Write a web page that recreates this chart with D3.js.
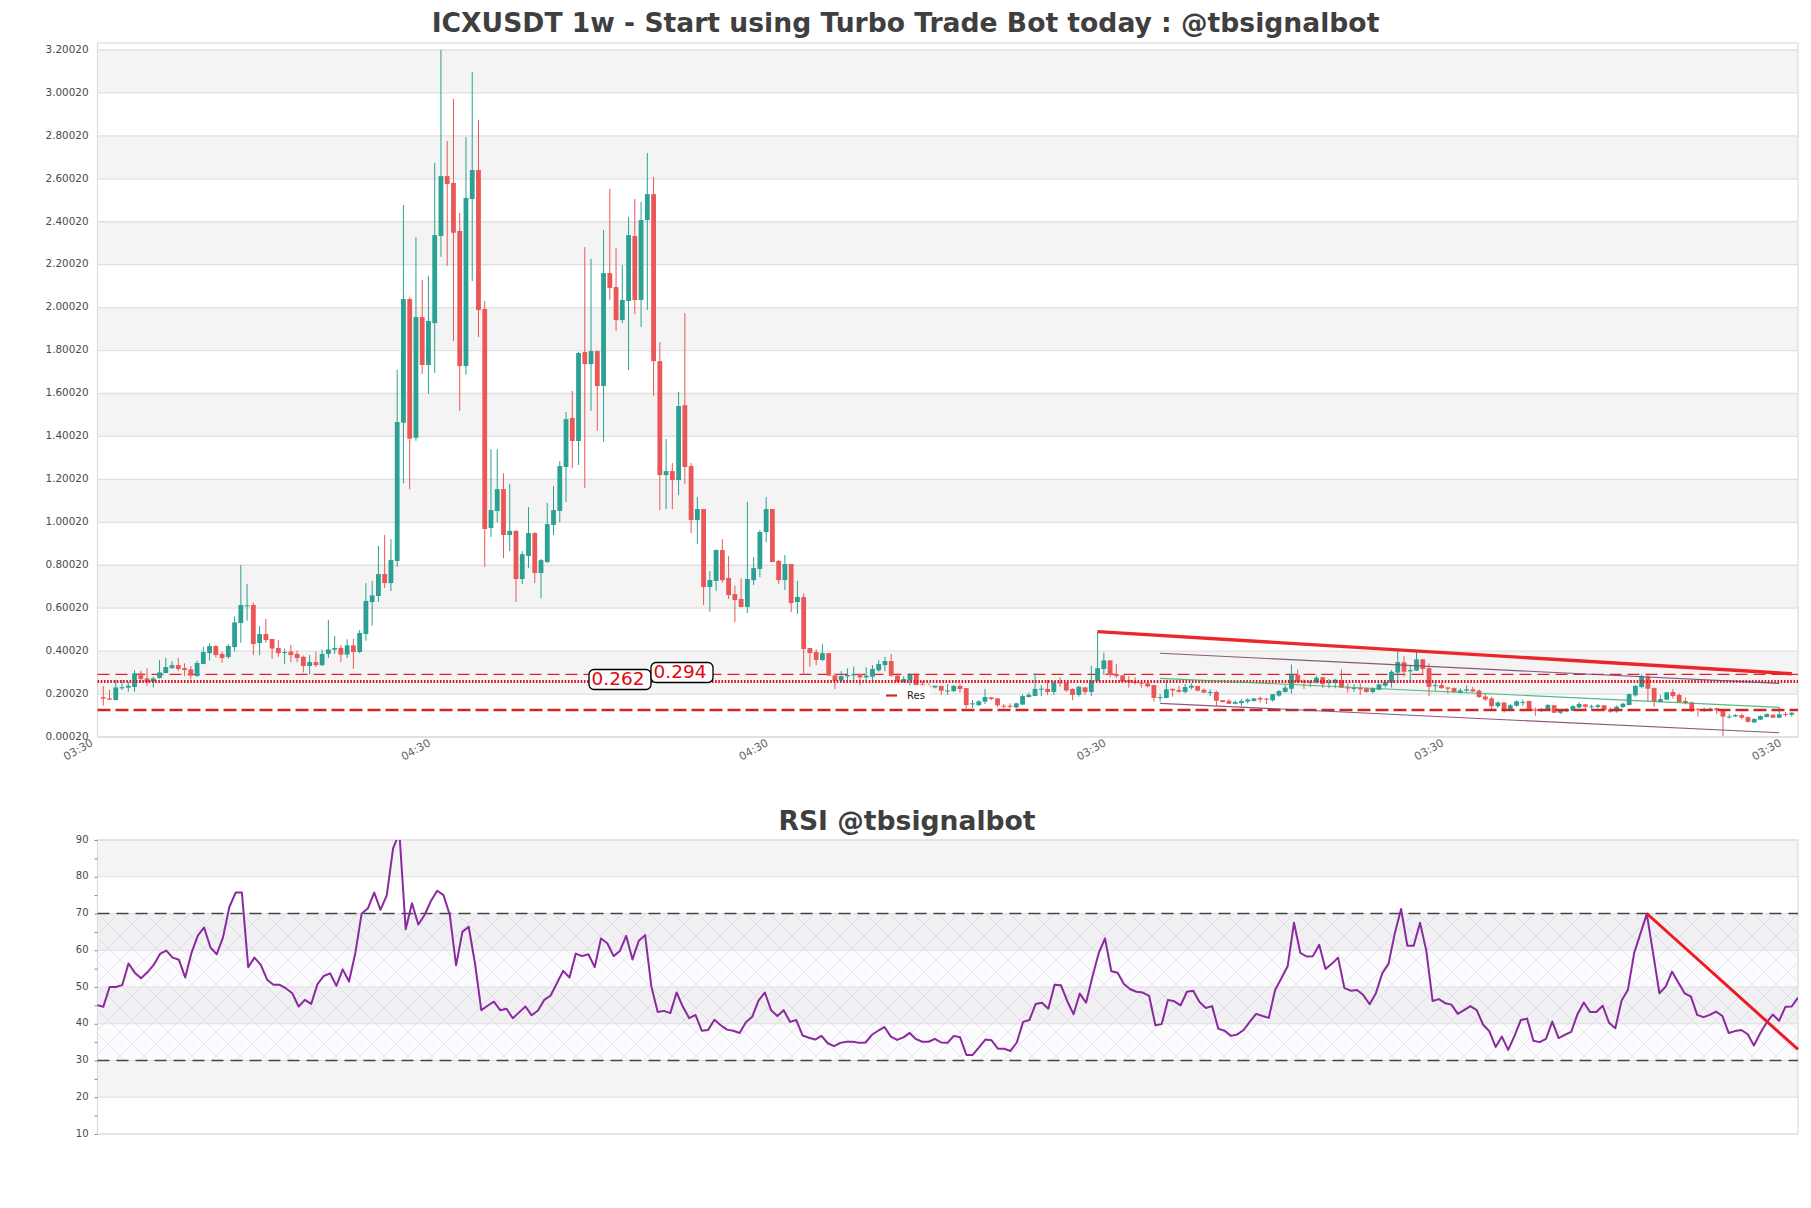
<!DOCTYPE html>
<html>
<head>
<meta charset="utf-8">
<style>
  html, body { margin: 0; padding: 0; background: #fff; }
  svg { display: block; font-family: "DejaVu Sans", sans-serif; }
</style>
<script src="https://cdn.jsdelivr.net/npm/d3@7"></script>
</head>
<body>
<script>
// weekly candles
var candleOpen = [.186,.180,.172,.229,.230,.233,.297,.273,.258,.275,.298,.321,.335,.321,.315,.284,.340,.391,.424,.387,
  .373,.419,.531,.610,.615,.438,.480,.457,.415,.393,.398,.387,.374,.331,.349,.335,.387,.407,.415,.384,
  .427,.396,.480,.629,.657,.759,.717,.820,1.464,2.040,1.394,1.956,1.733,1.928,2.334,2.613,2.581,2.357,1.728,2.506,
  2.641,1.994,.974,1.053,1.155,.941,.960,.736,.843,.950,.764,.815,.988,1.053,1.258,1.486,1.379,1.793,1.737,1.798,
  1.635,2.161,2.096,1.942,2.031,2.334,2.036,2.408,2.529,1.751,1.220,1.239,1.197,1.546,1.262,1.011,1.062,.699,.727,.871,
  .741,.666,.643,.606,.731,.783,.955,1.062,.820,.731,.806,.629,.652,.415,.396,.359,.391,.287,.264,.283,
  .287,.293,.278,.281,.311,.335,.354,.286,.256,.265,.289,.245,.239,.231,.238,.214,.214,.238,.228,.154,
  .149,.165,.185,.180,.146,.146,.138,.151,.186,.191,.222,.224,.210,.255,.252,.224,.196,.231,.210,.261,
  .317,.357,.293,.287,.264,.258,.253,.250,.242,.183,.182,.224,.219,.210,.230,.238,.220,.207,.210,.172,
  .169,.155,.158,.165,.168,.182,.179,.171,.193,.210,.225,.290,.261,.253,.255,.278,.252,.253,.264,.231,
  .224,.228,.227,.210,.220,.239,.253,.300,.348,.306,.309,.362,.321,.238,.242,.231,.228,.207,.216,.222,
  .216,.189,.180,.144,.161,.126,.146,.160,.168,.129,.123,.126,.148,.113,.120,.123,.138,.152,.140,.140,
  .148,.129,.120,.140,.149,.194,.233,.281,.228,.163,.174,.210,.196,.168,.161,.130,.124,.124,.134,.126,
  .093,.096,.102,.093,.068,.081,.093,.104,.090,.107,.104];
var candleHigh = [.238,.219,.266,.266,.258,.312,.309,.320,.281,.359,.368,.354,.368,.343,.331,.356,.421,.436,.427,.398,
  .433,.562,.801,.713,.626,.517,.550,.457,.452,.412,.429,.402,.380,.382,.398,.408,.545,.471,.429,.455,
  .457,.499,.717,.727,.890,.941,.922,1.710,2.478,2.050,2.329,2.129,2.147,2.674,3.200,2.776,2.972,2.441,2.795,3.098,
  2.874,2.031,1.340,1.340,1.228,1.179,.964,.866,1.071,.955,.829,1.090,1.169,1.286,1.514,1.612,1.795,2.282,2.227,1.800,
  2.362,2.553,2.278,2.199,2.422,2.506,2.492,2.720,2.609,1.840,1.388,1.276,1.607,1.975,1.276,1.118,1.062,.773,.874,.921,
  .843,.706,.739,1.095,.838,.964,1.118,1.062,.825,.848,.806,.727,.669,.415,.410,.433,.391,.297,.307,.320,
  .328,.293,.325,.335,.359,.374,.387,.297,.284,.297,.297,.261,.250,.239,.239,.247,.242,.247,.228,.172,
  .172,.224,.185,.182,.154,.157,.160,.199,.207,.297,.241,.266,.261,.278,.255,.227,.238,.234,.331,.491,
  .393,.357,.340,.289,.284,.278,.264,.259,.242,.200,.266,.228,.238,.247,.250,.239,.227,.222,.216,.172,
  .177,.172,.177,.180,.182,.189,.182,.200,.219,.242,.338,.315,.269,.266,.286,.281,.270,.272,.315,.250,
  .247,.250,.228,.231,.250,.266,.312,.405,.377,.334,.398,.362,.343,.261,.253,.233,.231,.228,.241,.234,
  .222,.203,.188,.166,.161,.154,.172,.175,.169,.138,.134,.154,.148,.129,.134,.149,.163,.154,.151,.154,
  .149,.137,.148,.160,.203,.242,.293,.289,.231,.196,.210,.224,.203,.185,.165,.135,.137,.137,.138,.129,
  .107,.107,.107,.096,.088,.101,.110,.107,.138,.116,.116];
var candleLow = [.146,.174,.172,.219,.211,.211,.253,.239,.230,.272,.297,.318,.307,.284,.269,.281,.340,.356,.371,.346,
  .365,.398,.439,.542,.382,.382,.439,.365,.374,.340,.349,.349,.301,.292,.326,.331,.368,.387,.349,.368,
  .318,.390,.449,.519,.629,.694,.680,.793,1.182,1.154,1.380,1.692,1.599,1.697,2.237,2.194,1.845,1.520,1.688,2.124,
  1.863,.793,.932,1.001,.834,.866,.629,.713,.787,.717,.647,.810,.941,1.001,1.095,1.253,1.267,1.160,1.520,1.427,
  1.376,2.036,1.891,1.928,1.710,1.970,1.910,1.989,1.588,1.057,1.062,1.062,1.127,1.178,.950,.899,.615,.584,.680,.719,
  .643,.536,.604,.578,.708,.745,.908,.815,.713,.685,.582,.573,.289,.328,.335,.354,.286,.224,.258,.253,
  .258,.242,.262,.258,.304,.307,.281,.253,.253,.238,.239,.234,.234,.227,.196,.196,.210,.207,.135,.135,
  .144,.154,.172,.140,.134,.134,.135,.151,.186,.191,.191,.196,.196,.234,.211,.172,.188,.196,.191,.261,
  .289,.278,.275,.253,.230,.245,.230,.231,.165,.165,.182,.188,.207,.203,.222,.213,.205,.191,.146,.161,
  .154,.152,.144,.157,.165,.160,.154,.165,.188,.207,.202,.250,.224,.234,.250,.228,.227,.228,.227,.207,
  .211,.196,.207,.203,.219,.231,.231,.250,.281,.256,.309,.293,.191,.216,.225,.203,.207,.202,.210,.210,
  .182,.169,.126,.135,.113,.123,.141,.144,.123,.099,.116,.123,.113,.107,.116,.121,.134,.124,.124,.132,
  .121,.113,.113,.135,.149,.188,.227,.168,.141,.163,.172,.179,.160,.152,.116,.095,.118,.121,.107,.005,
  .085,.093,.082,.068,.065,.079,.092,.090,.088,.095,.095];
var candleClose = [.179,.174,.231,.232,.239,.297,.270,.256,.273,.301,.326,.335,.317,.312,.286,.345,.396,.424,.382,.368,
  .424,.534,.615,.613,.433,.480,.452,.412,.391,.396,.382,.368,.331,.349,.335,.387,.408,.415,.384,.427,
  .396,.485,.634,.660,.759,.717,.825,1.467,2.040,1.390,1.956,1.733,1.938,2.338,2.613,2.576,2.349,1.728,2.511,2.641,
  1.989,.969,1.057,1.155,.941,.960,.736,.852,.950,.764,.824,.992,1.057,1.262,1.481,1.379,1.789,1.737,1.798,1.635,
  2.161,2.092,1.942,2.036,2.338,2.036,2.408,2.529,1.751,1.220,1.239,1.197,1.542,1.258,1.011,1.062,.699,.731,.871,.731,
  .661,.638,.606,.736,.787,.955,1.062,.815,.731,.806,.624,.652,.410,.391,.359,.391,.286,.262,.284,.289,
  .293,.278,.286,.317,.340,.354,.286,.258,.270,.289,.239,.234,.236,.239,.216,.217,.238,.224,.149,.157,
  .166,.186,.177,.148,.143,.141,.157,.191,.197,.224,.225,.210,.252,.250,.217,.196,.234,.210,.264,.321,
  .357,.289,.284,.259,.256,.252,.248,.236,.182,.186,.222,.217,.211,.233,.239,.216,.207,.210,.169,.163,
  .155,.163,.168,.175,.180,.175,.175,.200,.214,.230,.290,.256,.256,.258,.276,.247,.256,.267,.230,.227,
  .228,.222,.210,.227,.245,.255,.304,.349,.304,.312,.362,.317,.234,.241,.228,.225,.210,.217,.222,.213,
  .186,.175,.144,.161,.126,.148,.166,.163,.124,.123,.129,.149,.113,.123,.129,.144,.154,.141,.143,.148,
  .126,.118,.141,.155,.200,.238,.283,.225,.165,.177,.208,.191,.163,.158,.126,.127,.130,.132,.124,.095,
  .096,.102,.090,.071,.084,.098,.107,.090,.106,.104,.113];

var rsiValues = [45.1,44.6,50,50,50.5,56.4,53.9,52.4,54,56,59,59.9,58,57.4,52.6,59.3,64,66.2,60.8,58.9,
  63.5,71.7,75.7,75.7,55.4,58,56,52,50.6,50.6,49.6,48.3,44.7,46.5,45.4,50.8,53,53.7,50.3,54.8,
  51.5,59.2,69.9,71.4,75.7,71,75,87.7,92,65.7,72.8,67,69.6,73.4,76.2,75,69.6,55.9,65,66.4,
  56.4,43.7,44.9,46,43.7,44.1,41.5,43.1,44.7,42.3,43.6,46.5,47.7,51,54.4,52.6,59.1,58.4,58.9,55.4,
  63.2,61.9,58.4,59.8,63.9,57.5,62.6,64.1,50.1,43.2,43.5,42.9,48.5,44.6,41.5,42.4,38.1,38.3,41.1,39.6,
  38.4,38.1,37.5,40.4,41.9,46.3,48.5,43.7,42.1,43.7,40.5,41,36.8,36.2,35.7,36.7,34.7,33.9,34.8,35.1,
  35.1,34.8,34.9,37,38.1,39.1,36.5,35.6,36.3,37.5,35.8,35.1,35.1,35.9,34.9,34.8,36.7,36.3,31.5,31.5,
  33.6,35.7,35.5,33.2,33.2,32.6,34.9,40.5,41,45.4,45.7,44.1,50.6,50.5,46.2,42.6,48.2,45.7,52.8,59.2,
  63.2,54.3,53.9,50.8,49.4,48.7,48.5,47.6,39.6,39.9,46.5,46.1,45,48.7,49,45.9,44.3,44.8,38.6,38.1,
  36.7,37.1,38.3,40.6,42.7,42.1,41.6,49.2,52.4,55.7,67.5,59.3,58.3,58.4,61.5,54.9,56.3,58,49.7,49,49.2,
  47.8,45.3,48.3,53.7,56.3,64.6,71.2,61.2,61.2,67.5,59.9,46.2,46.7,45.6,45.2,42.7,43.7,44.8,43.7,39.8,
  38,33.7,36.5,32.9,36.7,41,41.4,35.4,35,35.9,40.6,36.1,37,37.8,42.6,45.8,43.2,43.2,44.9,40.3,
  38.8,46.3,49.2,59.3,64.6,69.9,59.2,48.3,50.1,54.2,51.2,48.3,47.4,42.4,41.8,42.4,43.3,42.1,37.5,38,
  38.3,37.2,34.1,37.4,40.3,42.5,40.8,44.6,44.7,47.1];

var priceTicks = [0.0002,0.2002,0.4002,0.6002,0.8002,1.0002,1.2002,1.4002,1.6002,1.8002,2.0002,2.2002,2.4002,2.6002,2.8002,3.0002,3.2002];
var timeTickIndex = [0,54,108,162,216,270];
var timeTickLabel = ["03:30","04:30","04:30","03:30","03:30","03:30"];
var rsiTicks = [10,15,20,25,30,35,40,45,50,55,60,65,70,75,80,85,90];

// horizontal levels
var resTop = 0.292, resMid = 0.259, resLow = 0.126;
var levelLabels = ["0.262","0.294"];

// trend lines: [candle index, price] pairs
var trendThick = [[159,0.491],[270,0.295]];
var trendUpper = [[169,0.390],[268,0.250]];
var trendMiddle = [[169,0.2735],[268,0.138]];
var trendLower = [[169,0.157],[268,0.020]];
// rsi trend line: [rsi index, rsi]
var rsiTrend = [[rsiValues.length-1-24,70],[rsiValues.length-1,33]];

var W = 1811, H = 1208;
var L = 97.5, R = 1798;
var green = "#2aa192", red = "#eb5757", gridCol = "#e0e0e0", band = "#f4f4f4", txt = "#4a4a4a";

var svg = d3.select("body").append("svg").attr("width", W).attr("height", H);

var x = d3.scaleLinear().domain([-1, 271]).range([97, 1798]);
var y = d3.scaleLinear().domain([0.0002, 3.2002]).range([737, 50]);
var mainTop = 43;
var yr = d3.scaleLinear().domain([10, 90]).range([1134, 840]);
var xr = d3.scaleLinear().domain([0, rsiValues.length - 1]).range([97, 1798]);

var defs = svg.append("defs");
defs.append("clipPath").attr("id", "rsiClip").append("rect")
  .attr("x", L).attr("y", yr(90)).attr("width", R - L).attr("height", yr(10) - yr(90));

var hatch = defs.append("pattern").attr("id", "hatch").attr("patternUnits", "userSpaceOnUse")
  .attr("width", 24).attr("height", 24);
hatch.append("path").attr("d", "M0,0L24,24M24,0L0,24")
  .attr("stroke", "#b5a6c6").attr("stroke-width", 0.6).attr("opacity", 0.45);
hatch.append("path").attr("d", "M0,12L12,0M12,24L24,12M0,12L12,24M12,0L24,12")
  .attr("stroke", "#c8b8d6").attr("stroke-width", 0.6).attr("stroke-dasharray", "1.2 1.6").attr("opacity", 0.4);

// title
svg.append("text").attr("x", 905.5).attr("y", 32).attr("text-anchor", "middle")
  .attr("font-size", 26.6).attr("font-weight", "bold").attr("fill", "#3f3f3f")
  .text("ICXUSDT 1w - Start using Turbo Trade Bot today : @tbsignalbot");
svg.append("text").attr("x", 907).attr("y", 829.5).attr("text-anchor", "middle")
  .attr("font-size", 26.6).attr("font-weight", "bold").attr("fill", "#3f3f3f")
  .text("RSI @tbsignalbot");

// main panel background
var g = svg.append("g");
var bandPairs = d3.pairs(priceTicks);
g.selectAll("rect.band").data(bandPairs).enter().append("rect")
  .attr("x", L).attr("width", R - L)
  .attr("y", function(d){ return y(d[1]); })
  .attr("height", function(d){ return y(d[0]) - y(d[1]); })
  .attr("fill", function(d, i){ return i % 2 == 1 ? band : "#fff"; });

g.append("g").selectAll("line").data(priceTicks).enter().append("line")
  .attr("x1", L).attr("x2", R)
  .attr("y1", function(d){ return y(d); }).attr("y2", function(d){ return y(d); })
  .attr("stroke", gridCol).attr("stroke-width", 1.3);

// frame
g.append("rect").attr("x", L).attr("y", mainTop).attr("width", R - L).attr("height", 737 - mainTop)
  .attr("fill", "none").attr("stroke", "#dcdcdc").attr("stroke-width", 1.2);

var axisY = g.append("g").attr("transform", "translate(" + L + ",0)")
  .call(d3.axisLeft(y).tickValues(priceTicks).tickSize(0).tickPadding(9).tickFormat(d3.format(".5f")));
axisY.select(".domain").remove();
axisY.selectAll("text").attr("font-size", 10.4).attr("fill", txt).attr("font-family", "DejaVu Sans").attr("dy", "0.22em");

var axisX = g.append("g").attr("transform", "translate(0,737)")
  .call(d3.axisBottom(x).tickValues(timeTickIndex).tickSize(0).tickFormat(function(d, i){ return timeTickLabel[i]; }));
axisX.select(".domain").remove();
axisX.selectAll("text")
  .attr("font-size", 11).attr("fill", "#666").attr("font-family", "DejaVu Sans")
  .attr("text-anchor", "end").attr("x", 0).attr("y", 0).attr("dy", 0)
  .attr("transform", "translate(-10,8) rotate(-30)");

// levels behind candles
g.append("line").attr("x1", L).attr("x2", R).attr("y1", y(resTop)).attr("y2", y(resTop))
  .attr("stroke", "#d9242a").attr("stroke-width", 1.4).attr("stroke-dasharray", "12 6");

// candles
var candles = d3.range(candleOpen.length);
var gc = svg.append("g");
gc.selectAll("line").data(candles).enter().append("line")
  .attr("x1", function(i){ return x(i); }).attr("x2", function(i){ return x(i); })
  .attr("y1", function(i){ return y(candleHigh[i]); }).attr("y2", function(i){ return y(candleLow[i]); })
  .attr("stroke", function(i){ return candleClose[i] >= candleOpen[i] ? green : red; })
  .attr("stroke-width", 1);
gc.selectAll("rect").data(candles).enter().append("rect")
  .attr("x", function(i){ return x(i) - 2.4; }).attr("width", 4.8)
  .attr("y", function(i){ return y(Math.max(candleOpen[i], candleClose[i])); })
  .attr("height", function(i){ return Math.max(1, Math.abs(y(candleOpen[i]) - y(candleClose[i]))); })
  .attr("fill", function(i){ return candleClose[i] >= candleOpen[i] ? green : red; });

// support, resistance
var lv = svg.append("g");
lv.append("line").attr("x1", L).attr("x2", R).attr("y1", y(resMid)).attr("y2", y(resMid))
  .attr("stroke", "#d8181e").attr("stroke-width", 3).attr("stroke-dasharray", "1.6 1.6");
lv.append("line").attr("x1", L).attr("x2", R).attr("y1", y(resLow)).attr("y2", y(resLow))
  .attr("stroke", "#cf2626").attr("stroke-width", 2.4).attr("stroke-dasharray", "13 5");

function trend(pts, col, w, op) {
  svg.append("line")
    .attr("x1", x(pts[0][0])).attr("y1", y(pts[0][1]))
    .attr("x2", x(pts[1][0])).attr("y2", y(pts[1][1]))
    .attr("stroke", col).attr("stroke-width", w).attr("opacity", op);
}
trend(trendUpper, "#7a4a74", 1.1, 0.9);
trend(trendMiddle, "#35b06a", 1.2, 0.85);
trend(trendLower, "#7a4a74", 1.1, 0.9);
trend(trendThick, "#ea1c22", 3.4, 0.95);

// legend
svg.append("rect").attr("x", 880).attr("y", 685).attr("width", 50).attr("height", 17)
  .attr("fill", "#fff").attr("opacity", 0.85);
svg.append("line").attr("x1", 886).attr("x2", 897).attr("y1", 695.5).attr("y2", 695.5)
  .attr("stroke", "#d9242a").attr("stroke-width", 2.2);
svg.append("text").attr("x", 907).attr("y", 699).attr("font-size", 10).attr("fill", "#222").text("Res");

// price bubbles
function bubble(bx, by, t, ty) {
  svg.append("rect").attr("x", bx).attr("y", by).attr("width", 62).attr("height", 20).attr("rx", 5)
    .attr("fill", "#fff").attr("stroke", "#000").attr("stroke-width", 1.3);
  svg.append("text").attr("x", bx + 29).attr("y", ty).attr("text-anchor", "middle")
    .attr("font-size", 18.5).attr("fill", "#e3060d").text(t);
}
bubble(589, 669.5, levelLabels[0], 685);
bubble(651, 662.5, levelLabels[1], 678);

// RSI panel
var r = svg.append("g");
var rsiBands = d3.range(10, 90, 10);
r.selectAll("rect.b").data(rsiBands).enter().append("rect")
  .attr("x", L).attr("width", R - L)
  .attr("y", function(d){ return yr(d + 10); })
  .attr("height", function(d){ return yr(d) - yr(d + 10); })
  .attr("fill", function(d){ return (d / 10) % 2 == 0 ? band : "#fff"; });

r.append("rect").attr("x", L).attr("width", R - L).attr("y", yr(70)).attr("height", yr(30) - yr(70))
  .attr("fill", "#8a6aa0").attr("opacity", 0.025);
r.append("rect").attr("x", L).attr("width", R - L).attr("y", yr(70)).attr("height", yr(30) - yr(70))
  .attr("fill", "url(#hatch)");

r.selectAll("line.g").data(d3.range(10, 100, 10)).enter().append("line")
  .attr("x1", L).attr("x2", R)
  .attr("y1", function(d){ return yr(d); }).attr("y2", function(d){ return yr(d); })
  .attr("stroke", gridCol).attr("stroke-width", 1.2);
r.append("rect").attr("x", L).attr("y", yr(90)).attr("width", R - L).attr("height", yr(10) - yr(90))
  .attr("fill", "none").attr("stroke", "#dcdcdc").attr("stroke-width", 1.2);

var axisR = r.append("g").attr("transform", "translate(" + L + ",0)")
  .call(d3.axisLeft(yr).tickValues(rsiTicks).tickSize(3).tickPadding(6)
    .tickFormat(function(d){ return d % 10 == 0 ? d : ""; }));
axisR.select(".domain").remove();
axisR.selectAll("line").attr("stroke", "#888");
axisR.selectAll("text").attr("font-size", 10).attr("fill", txt).attr("font-family", "DejaVu Sans").attr("dy", "0.22em");

[30, 70].forEach(function(v) {
  r.append("line").attr("x1", L).attr("x2", R).attr("y1", yr(v)).attr("y2", yr(v))
    .attr("stroke", "#444").attr("stroke-width", 1.3).attr("stroke-dasharray", "12 7");
});

var rsiLine = d3.line().x(function(d, i){ return xr(i); }).y(function(d){ return yr(d); });
r.append("path").datum(rsiValues).attr("d", rsiLine)
  .attr("clip-path", "url(#rsiClip)")
  .attr("fill", "none").attr("stroke", "#8a2a9e").attr("stroke-width", 2).attr("stroke-linejoin", "round");

r.append("line")
  .attr("x1", xr(rsiTrend[0][0])).attr("y1", yr(rsiTrend[0][1]))
  .attr("x2", xr(rsiTrend[1][0])).attr("y2", yr(rsiTrend[1][1]))
  .attr("stroke", "#ee1c22").attr("stroke-width", 3);
</script>
</body>
</html>
